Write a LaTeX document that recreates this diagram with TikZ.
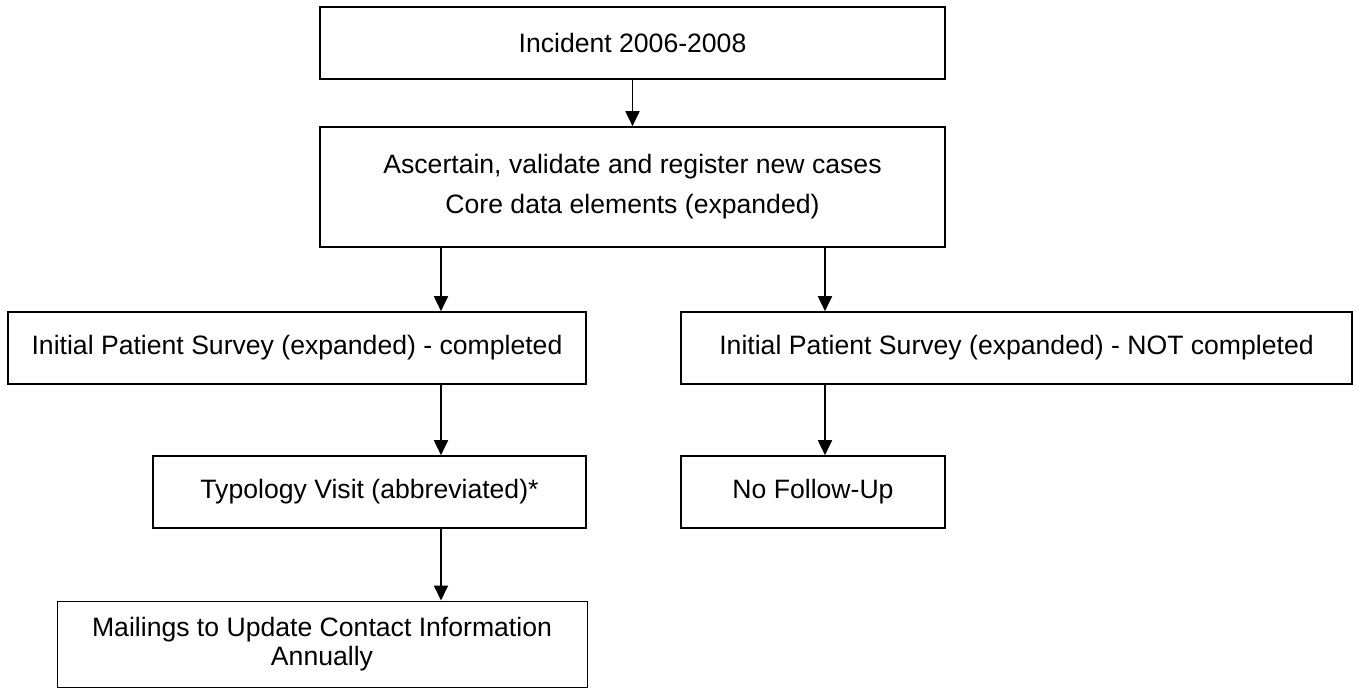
\documentclass[tikz,border=0pt]{standalone}
\usepackage{fontspec}
\setmainfont{Liberation Sans}
\usepackage{tikz}
\usetikzlibrary{arrows.meta}

\begin{document}
\begin{tikzpicture}[x=1pt,y=-1pt,
		box/.style={draw,line width=1.6pt,rectangle,inner sep=0pt,align=center,
			font=\fontsize{26.6}{40}\selectfont},
		thinbox/.style={box,line width=1pt,font=\fontsize{26.6}{29}\selectfont},
		arr/.style={line width=1.8pt,-{Triangle[length=15pt,width=14pt]}}]
		\useasboundingbox[fill=white] (0,0) rectangle (1360,688);
		% boxes
		\node[box,minimum width=625pt,minimum height=72pt] (inc) at (632.5,43) {Incident 2006-2008};
		\node[box,minimum width=625pt,minimum height=120pt] (reg) at (632.5,187) {Ascertain, validate and register new cases\\Core data elements (expanded)};
		\node[box,minimum width=578pt,minimum height=72pt] (comp) at (297,348) {Initial Patient Survey (expanded) - completed};
		\node[box,minimum width=671pt,minimum height=72pt] (notc) at (1016.5,348) {Initial Patient Survey (expanded) - NOT completed};
		\node[box,minimum width=433pt,minimum height=72pt] (typ) at (369.5,492) {Typology Visit (abbreviated)*};
		\node[box,minimum width=264pt,minimum height=72pt] (nofu) at (813,492) {No Follow-Up};
		\node[thinbox,minimum width=530pt,minimum height=86pt] (mail) at (322,644) {Mailings to Update Contact Information\\Annually};
		% arrows
		\coordinate (lft) at (441,0);
		\coordinate (rgt) at (825,0);
		\draw[arr] (inc) -- (reg);
		\draw[arr] (reg.south -| lft) -- (comp.north -| lft);
		\draw[arr] (reg.south -| rgt) -- (notc.north -| rgt);
		\draw[arr] (comp.south -| lft) -- (typ.north -| lft);
		\draw[arr] (typ.south -| lft) -- (mail.north -| lft);
		\draw[arr] (notc.south -| rgt) -- (nofu.north -| rgt);
\end{tikzpicture}
\end{document}
